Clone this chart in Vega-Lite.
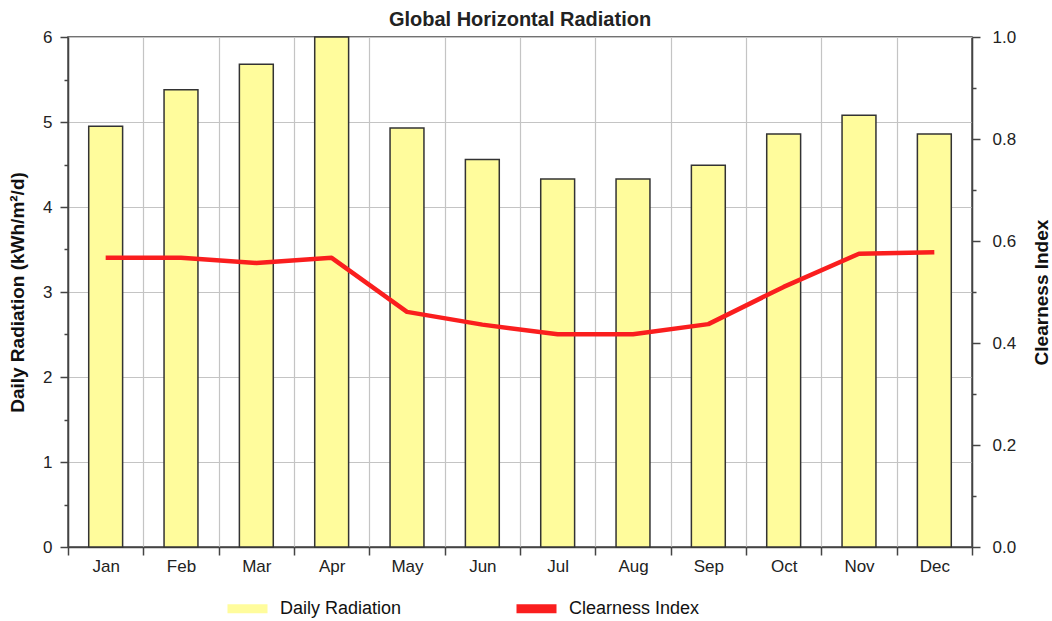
{
  "$schema": "https://vega.github.io/schema/vega-lite/v6.json",
  "autosize": {"type": "none"},
  "width": 904,
  "height": 510,
  "padding": {"left": 68, "top": 37, "right": 80, "bottom": 74},
  "background": "white",
  "title": {"text": "Global Horizontal Radiation", "fontSize": 20, "font": "Liberation Sans", "fontWeight": "bold", "color": "#222", "anchor": "middle", "offset": -2},
  "config": {
    "font": "Liberation Sans",
    "view": {"stroke": "#444", "strokeWidth": 1.5},
    "axis": {"labelFont": "Liberation Sans", "labelFontSize": 17, "labelColor": "#222", "titleFont": "Liberation Sans", "titleFontSize": 19, "titleFontWeight": "bold", "titleColor": "#111", "domainColor": "#444", "domainWidth": 1.5, "tickColor": "#444", "tickWidth": 1.5, "gridColor": "#c4c4c4", "gridWidth": 1.2}
  },
  "data": {"values": [
    {"month": "Jan", "rad": 4.95, "ci": 0.567},
    {"month": "Feb", "rad": 5.38, "ci": 0.567},
    {"month": "Mar", "rad": 5.68, "ci": 0.557},
    {"month": "Apr", "rad": 6.0, "ci": 0.567},
    {"month": "May", "rad": 4.93, "ci": 0.461},
    {"month": "Jun", "rad": 4.56, "ci": 0.436},
    {"month": "Jul", "rad": 4.33, "ci": 0.417},
    {"month": "Aug", "rad": 4.33, "ci": 0.417},
    {"month": "Sep", "rad": 4.49, "ci": 0.437},
    {"month": "Oct", "rad": 4.86, "ci": 0.51},
    {"month": "Nov", "rad": 5.08, "ci": 0.575},
    {"month": "Dec", "rad": 4.86, "ci": 0.578}
  ]},
  "encoding": {
    "x": {"field": "month", "type": "nominal", "sort": null, "title": null,
      "scale": {"paddingInner": 0, "paddingOuter": 0},
      "axis": {"tickBand": "extent", "grid": true, "labelAngle": 0, "tickSize": 8, "labelPadding": 3, "domainColor": "#444"}}
  },
  "layer": [
    {
      "mark": {"type": "bar", "width": {"band": 0.45}, "stroke": "#333", "strokeWidth": 1.5, "fillOpacity": 1},
      "encoding": {
        "y": {"field": "rad", "type": "quantitative", "title": "Daily Radiation (kWh/m²/d)",
          "scale": {"domain": [0, 6], "nice": false},
          "axis": {"values": [0, 0.5, 1, 1.5, 2, 2.5, 3, 3.5, 4, 4.5, 5, 5.5, 6],
            "labelExpr": "datum.value % 1 === 0 ? format(datum.value, 'd') : ''",
            "tickSize": {"condition": {"test": "datum.value % 1 === 0", "value": 8}, "value": 4},
            "gridOpacity": {"condition": {"test": "datum.value % 1 === 0", "value": 1}, "value": 0},
            "labelPadding": 8, "titlePadding": 15}},
        "color": {"datum": "Daily Radiation", "type": "nominal",
          "scale": {"domain": ["Daily Radiation", "Clearness Index"], "range": ["#FFFC9C", "#FA1E1E"]},
          "legend": {"title": null, "orient": "none", "legendX": 155, "legendY": 547, "direction": "horizontal",
            "symbolType": "stroke", "symbolSize": 1600, "symbolStrokeWidth": 9, "labelFontSize": 18, "labelColor": "#111", "labelFont": "Liberation Sans", "labelOffset": 8, "columnPadding": 96,
            "encode": {"symbols": {"enter": {"strokeCap": {"value": "round"}}, "update": {"stroke": {"scale": "color", "field": "value"}, "fill": {"value": "transparent"}, "strokeWidth": {"value": 9}, "strokeCap": {"value": "round"}, "opacity": {"value": 1}}}}}}
      }
    },
    {
      "mark": {"type": "line", "strokeWidth": 4.5, "strokeJoin": "round"},
      "encoding": {
        "y": {"field": "ci", "type": "quantitative", "title": "Clearness Index",
          "scale": {"domain": [0, 1], "nice": false},
          "axis": {"orient": "right", "grid": false, "values": [0, 0.1, 0.2, 0.3, 0.4, 0.5, 0.6, 0.7, 0.8, 0.9, 1],
            "labelExpr": "round(datum.value*10) % 2 === 0 ? format(datum.value, '.1f') : ''",
            "tickSize": {"condition": {"test": "round(datum.value*10) % 2 === 0", "value": 8}, "value": 4},
            "labelPadding": 12, "titlePadding": 36, "titleAngle": 270}},
        "color": {"datum": "Clearness Index", "type": "nominal"}
      }
    }
  ],
  "resolve": {"scale": {"y": "independent"}}
}
